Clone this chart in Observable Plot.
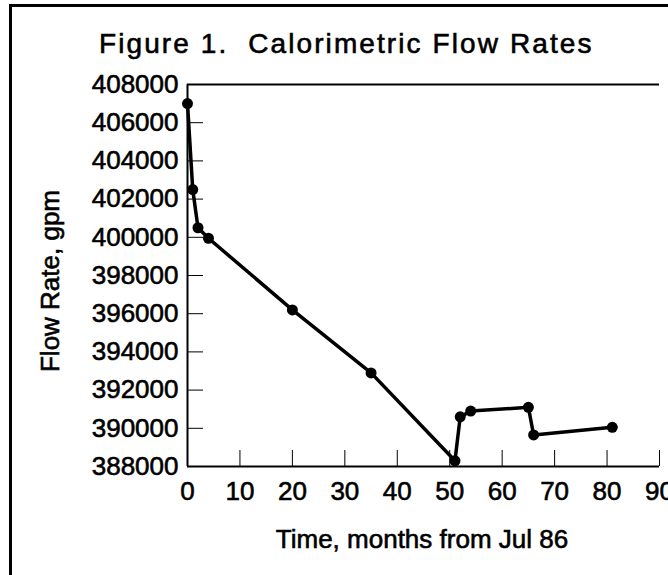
<!DOCTYPE html>
<html><head><meta charset="utf-8">
<script src="https://cdn.jsdelivr.net/npm/d3@7"></script>
<script src="https://cdn.jsdelivr.net/npm/@observablehq/plot@0.6"></script>
<style>
html,body{margin:0;padding:0;background:#fff;overflow:hidden;width:668px;height:575px;}
#wrap{position:relative;width:668px;height:575px;overflow:hidden;}
#border{position:absolute;left:9px;top:4px;width:800px;height:700px;border-left:3px solid #000;border-top:3px solid #000;}
#chart{position:absolute;left:0;top:0;}
#title{position:absolute;left:99px;top:30px;font-family:'Liberation Sans',Arial,Helvetica,sans-serif;font-size:28px;line-height:28px;letter-spacing:2.1px;white-space:pre;color:#000;-webkit-text-stroke:0.6px #000;}
svg text{stroke:#000;stroke-width:0.6px;}
</style></head><body>
<div id="wrap"><div id="border"></div><div id="chart"></div><div id="title"></div></div>
<script>
const title = "Figure 1.  Calorimetric Flow Rates";
const xLabel = "Time, months from Jul 86";
const yLabel = "Flow Rate, gpm";
const months = [0, 1, 2, 4, 20, 35, 51, 52, 54, 65, 66, 81];
const flowRates = [407000, 402500, 400500, 399950, 396200, 392900, 388300, 390600, 390900, 391100, 389650, 390050];
const xTicks = [0, 10, 20, 30, 40, 50, 60, 70, 80, 90];
const yTicks = [388000, 390000, 392000, 394000, 396000, 398000, 400000, 402000, 404000, 406000, 408000];

document.getElementById("title").textContent = title;

const data = months.map((m, i) => ({month: m, flow: flowRates[i]}));
const font = "'Liberation Sans', Arial, Helvetica, sans-serif";
const W = 668, H = 575, mL = 187, mR = 9, mT = 84, mB = 109;
const fw = W - mL - mR, fh = H - mT - mB;

const plot = Plot.plot({
  width: W, height: H,
  marginLeft: mL, marginRight: mR, marginTop: mT, marginBottom: mB,
  style: {fontFamily: font, fontSize: "26px", color: "#000", background: "transparent", overflow: "visible"},
  x: {domain: [0, 90]},
  y: {domain: [388000, 408000]},
  marks: [
    Plot.tickY(yTicks, {y: d => d, insetRight: fw - 16, stroke: "#000", strokeWidth: 1}),
    Plot.tickX(xTicks, {x: d => d, insetTop: fh - 16, stroke: "#000", strokeWidth: 1}),
    Plot.axisY({ticks: yTicks, tickSize: 0, tickPadding: 9, tickFormat: d => String(d), label: null}),
    Plot.axisX({ticks: xTicks, tickSize: 0, tickPadding: 15, tickFormat: d => String(d), label: null}),
    Plot.ruleX([0], {stroke: "#000", strokeWidth: 2}),
    Plot.ruleY([388000, 408000], {stroke: "#000", strokeWidth: 2}),
    Plot.line(data, {x: "month", y: "flow", stroke: "#000", strokeWidth: 3.5}),
    Plot.dot(data, {x: "month", y: "flow", r: 5.5, fill: "#000"})
  ]
});
document.getElementById("chart").appendChild(plot);

const svg = d3.select(plot);
svg.append("text")
  .attr("x", 422).attr("y", 548)
  .attr("text-anchor", "middle")
  .style("font-size", "26px")
  .style("font-family", font)
  .attr("fill", "#000")
  .text(xLabel);
svg.append("text")
  .attr("transform", "translate(59,281) rotate(-90)")
  .attr("text-anchor", "middle")
  .style("font-size", "26px")
  .style("font-family", font)
  .attr("fill", "#000")
  .text(yLabel);
</script>
</body></html>
